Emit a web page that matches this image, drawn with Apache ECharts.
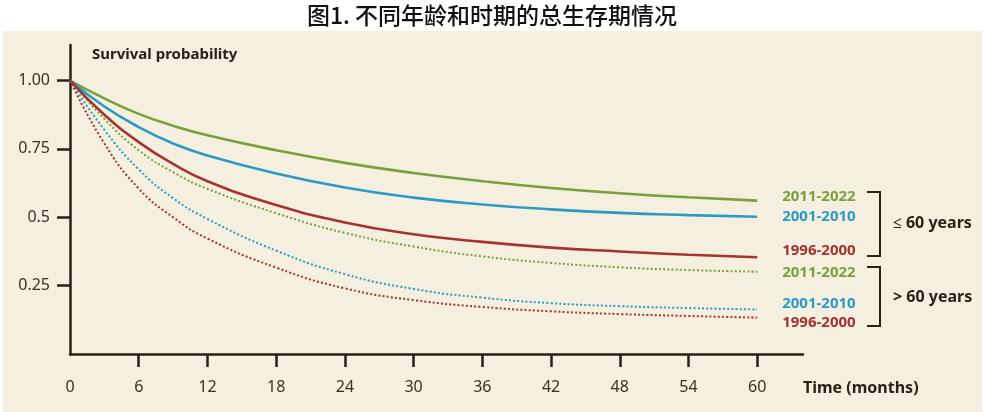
<!DOCTYPE html>
<html><head><meta charset="utf-8">
<script src="https://cdn.jsdelivr.net/npm/echarts@6/dist/echarts.min.js"></script>
<style>html,body{margin:0;padding:0;background:#fff}#c{width:985px;height:412px}</style>
</head><body><div id="c"></div>
<script>
// ---- data ----
const months = [0, 3, 6, 9, 12, 18, 24, 30, 36, 42, 48, 54, 60];
const le60_2011 = [1.0, 0.935, 0.878, 0.835, 0.800, 0.745, 0.699, 0.662, 0.632, 0.607, 0.588, 0.573, 0.561];
const le60_2001 = [1.0, 0.905, 0.830, 0.770, 0.726, 0.660, 0.609, 0.572, 0.547, 0.529, 0.516, 0.508, 0.502];
const le60_1996 = [1.0, 0.875, 0.775, 0.695, 0.632, 0.545, 0.481, 0.438, 0.410, 0.389, 0.375, 0.363, 0.354];
const gt60_2011 = [1.0, 0.860, 0.745, 0.665, 0.604, 0.515, 0.443, 0.393, 0.357, 0.333, 0.317, 0.307, 0.301];
const gt60_2001 = [1.0, 0.820, 0.675, 0.570, 0.494, 0.378, 0.292, 0.238, 0.206, 0.186, 0.175, 0.168, 0.163];
const gt60_1996 = [1.0, 0.770, 0.605, 0.500, 0.422, 0.316, 0.240, 0.197, 0.172, 0.156, 0.146, 0.139, 0.133];
const periods = ['2011-2022', '2001-2010', '1996-2000'];
const xTickValues = [6, 12, 18, 24, 30, 36, 42, 48, 54, 60];
const xLabelValues = [0, 6, 12, 18, 24, 30, 36, 42, 48, 54, 60];
const yTickValues = [0.25, 0.5, 0.75, 1.0];
const yTickLabels = ['0.25', '0.5', '0.75', '1.00'];
const titleText = '图1. 不同年龄和时期的总生存期情况';
const yAxisTitle = 'Survival probability';
const xAxisTitle = 'Time (months)';
const groupLabels = ['≤ 60 years', '> 60 years'];

// ---- styles ----
const GREEN = '#79a03a', BLUE = '#2b9bc6', RED = '#a5332f', INK = '#2b2118';
const FONT = 'Noto Sans';
const seriesDefs = [
  { name: periods[0], data: le60_2011, color: GREEN, dotted: false, off: [17, -4] },
  { name: periods[1], data: le60_2001, color: BLUE, dotted: false, off: [17, 0] },
  { name: periods[2], data: le60_1996, color: RED, dotted: false, off: [17, -6] },
  { name: periods[0], data: gt60_2011, color: GREEN, dotted: true, off: [17, 1] },
  { name: periods[1], data: gt60_2001, color: BLUE, dotted: true, off: [17, -6] },
  { name: periods[2], data: gt60_1996, color: RED, dotted: true, off: [17, 5] }
];

const chart = echarts.init(document.getElementById('c'), null, { renderer: 'canvas' });
chart.setOption({
  animation: false,
  backgroundColor: '#ffffff',
  graphic: [
    { type: 'rect', z: -10, shape: { x: 3, y: 31, width: 979, height: 381 }, style: { fill: '#f5efdf' } },
    { type: 'text', x: 492, y: 15, style: { text: titleText, font: '500 23px "Noto Sans CJK SC"', fill: '#111', align: 'center', verticalAlign: 'middle' } },
    { type: 'text', x: 92, y: 55, style: { text: yAxisTitle, font: 'bold 15px "Noto Sans"', fill: INK, align: 'left', verticalAlign: 'middle' } },
    { type: 'text', x: 803, y: 388, style: { text: xAxisTitle, font: 'bold 16px "Noto Sans"', fill: INK, align: 'left', verticalAlign: 'middle' } },
    { type: 'polyline', shape: { points: [[867, 192], [880, 192], [880, 256], [867, 256]] }, style: { stroke: INK, lineWidth: 2, fill: null } },
    { type: 'polyline', shape: { points: [[867, 267], [880, 267], [880, 326], [867, 326]] }, style: { stroke: INK, lineWidth: 2, fill: null } },
    { type: 'text', x: 893, y: 223, style: { text: groupLabels[0], font: 'bold 16px "Noto Sans"', fill: INK, align: 'left', verticalAlign: 'middle' } },
    { type: 'text', x: 893, y: 297, style: { text: groupLabels[1], font: 'bold 16px "Noto Sans"', fill: INK, align: 'left', verticalAlign: 'middle' } }
  ],
  grid: { left: 70, right: 182, top: 45, bottom: 58, containLabel: false, outerBoundsMode: 'none' },
  xAxis: {
    type: 'value', min: 0, max: 64,
    axisLine: { show: true, lineStyle: { color: INK, width: 2.5 } },
    axisTick: { show: true, length: 13, customValues: xTickValues, lineStyle: { color: INK, width: 2.5 } },
    axisLabel: { customValues: xLabelValues, margin: 25, color: '#3a3028', fontSize: 16, fontFamily: FONT },
    splitLine: { show: false }
  },
  yAxis: {
    type: 'value', min: 0, max: 1.13,
    axisLine: { show: true, lineStyle: { color: INK, width: 2.5 } },
    axisTick: { show: true, length: 13, customValues: yTickValues, lineStyle: { color: INK, width: 2.5 } },
    axisLabel: {
      customValues: yTickValues, margin: 20, color: '#3a3028', fontSize: 16, fontFamily: FONT,
      formatter: v => { const i = yTickValues.findIndex(t => Math.abs(t - v) < 1e-6); return i >= 0 ? yTickLabels[i] : ''; }
    },
    splitLine: { show: false }
  },
  series: seriesDefs.map(s => ({
    type: 'line', name: s.name, smooth: 0.5, symbol: 'none',
    data: months.map((m, i) => [m, s.data[i]]),
    lineStyle: s.dotted ? { color: s.color, width: 2, type: [2, 2.2] } : { color: s.color, width: 2.6 },
    endLabel: { show: true, formatter: s.name, offset: s.off, color: s.color, fontSize: 15, fontWeight: 'bold', fontFamily: FONT },
    z: s.dotted ? 2 : 3
  }))
});
</script></body></html>
